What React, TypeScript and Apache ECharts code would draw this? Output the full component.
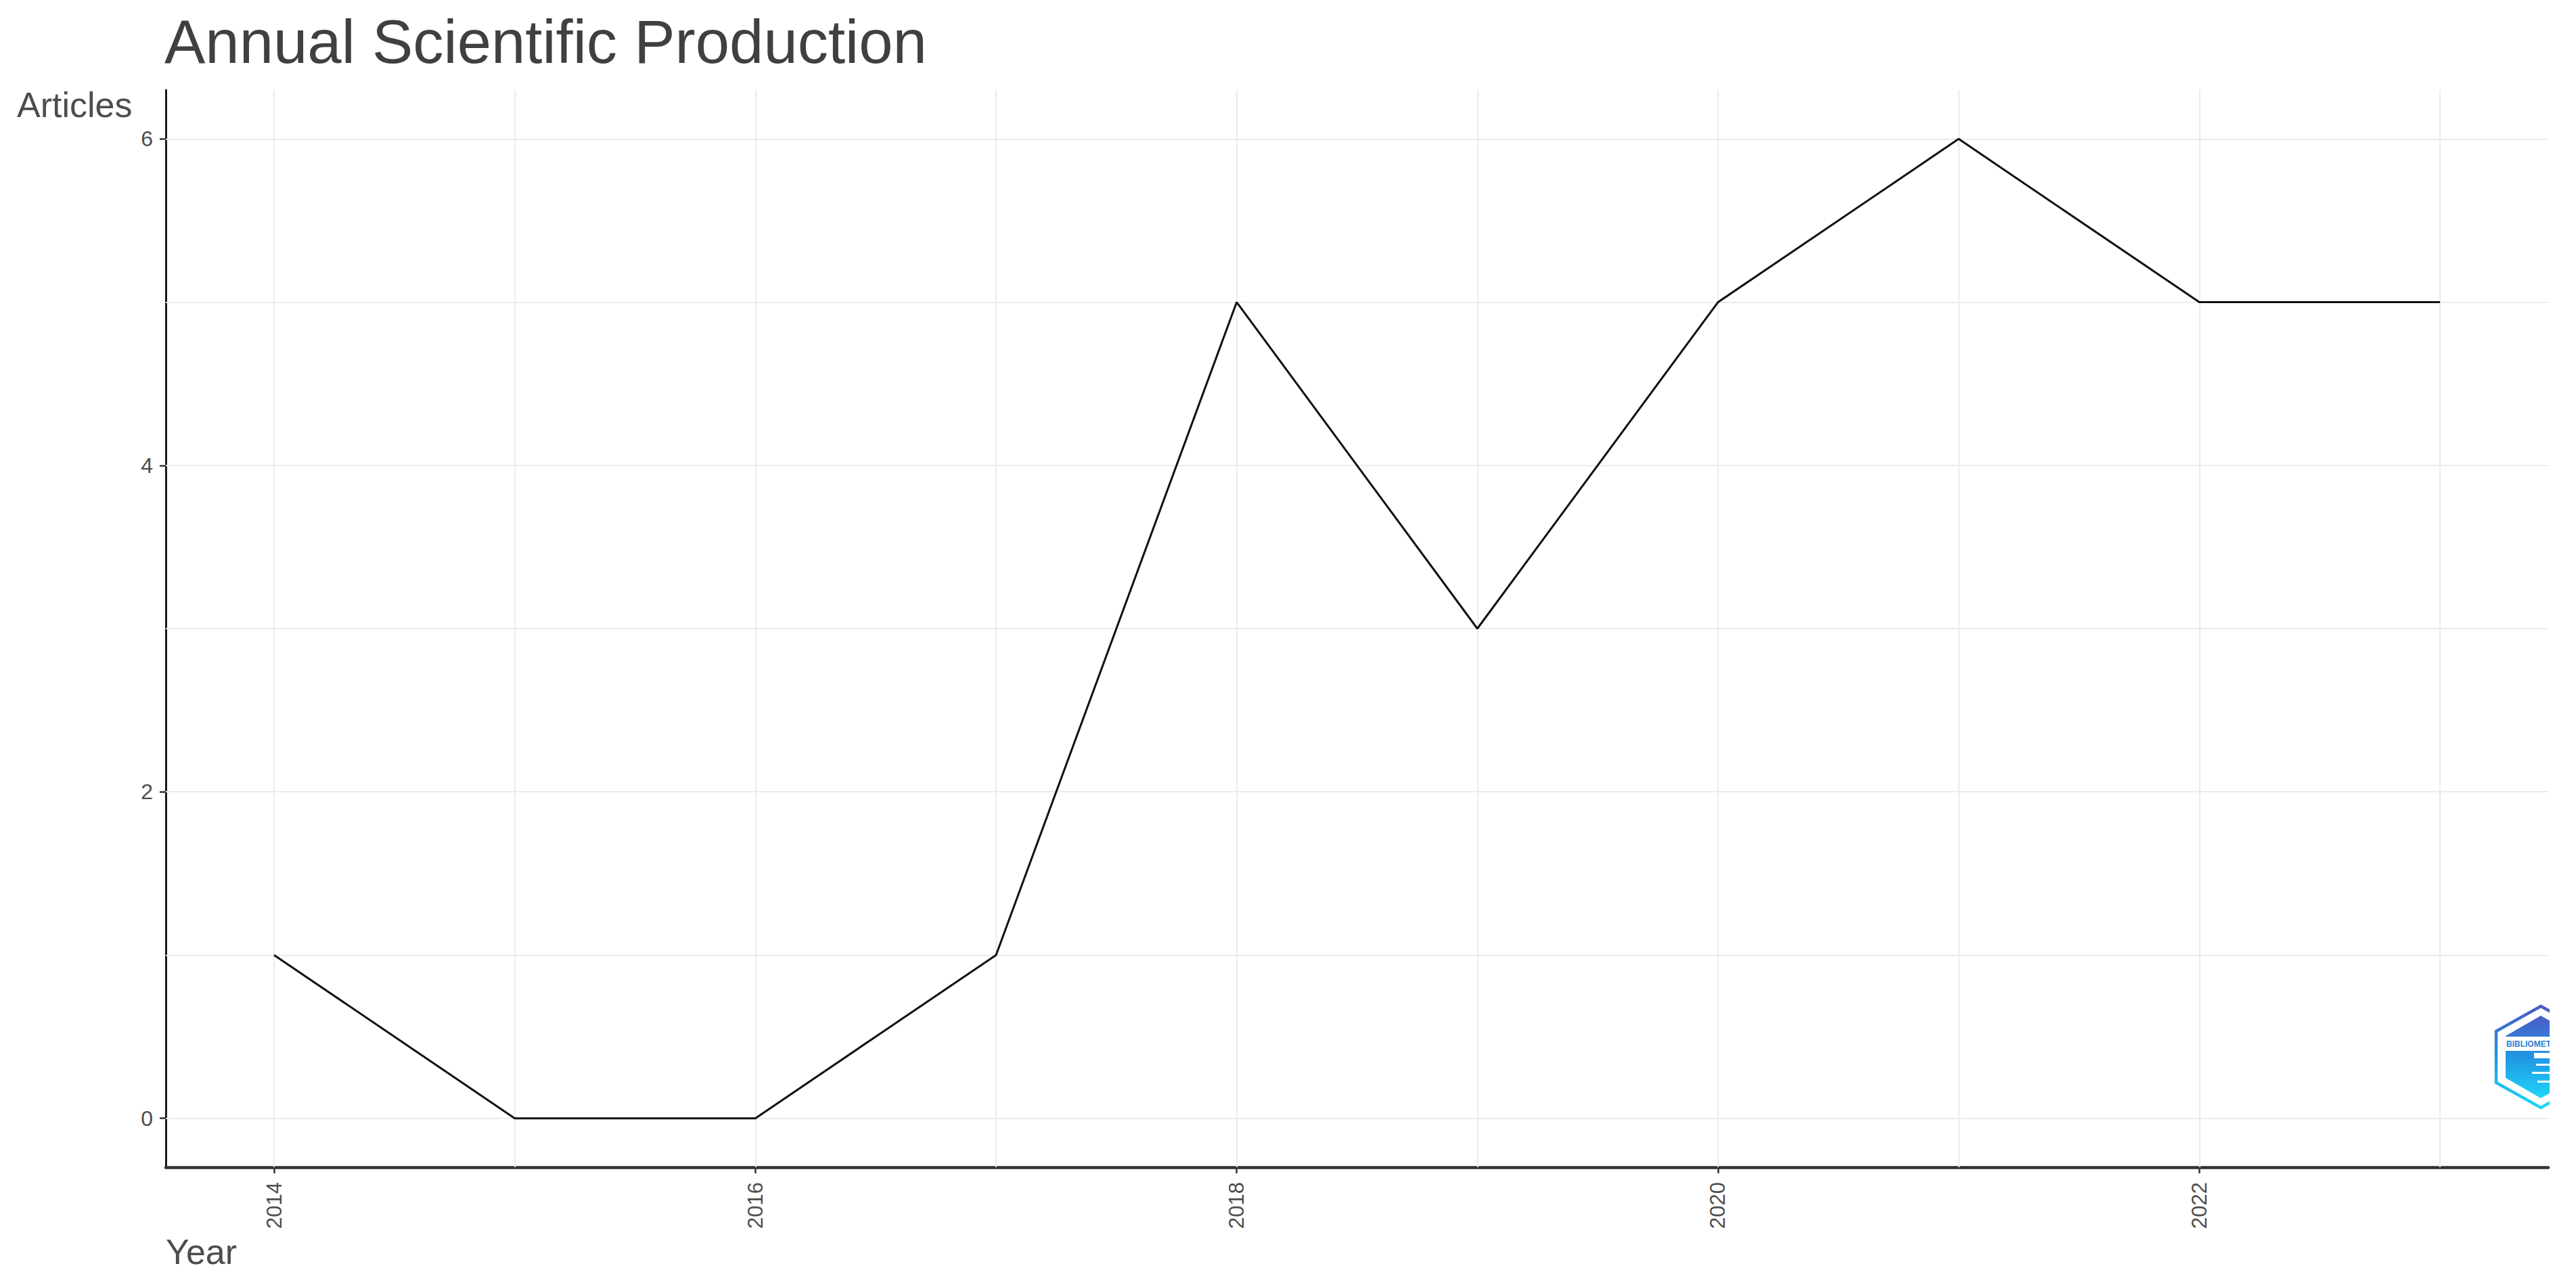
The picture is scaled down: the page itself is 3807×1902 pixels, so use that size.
import React, { useEffect, useRef } from "react";
import * as echarts from "echarts";

const years = [2014, 2015, 2016, 2017, 2018, 2019, 2020, 2021, 2022, 2023];
const articles = [1, 0, 0, 1, 5, 3, 5, 6, 5, 5];
const xTickYears = [2014, 2016, 2018, 2020, 2022];
const yTickValues = [0, 2, 4, 6];
const yGridValues = [0, 1, 2, 3, 4, 5, 6];
const xMin = 2013.55;
const xMax = 2023.45;
const yMin = -0.3;
const yMax = 6.3;

const FONT = "Liberation Sans, Arial, Helvetica, sans-serif";

export default function App() {
  const ref = useRef<HTMLDivElement>(null);

  useEffect(() => {
    if (!ref.current) return;
    const chart = echarts.init(ref.current, undefined, { renderer: "svg" });

    const logoGrad = new echarts.graphic.LinearGradient(0, 0, 0, 1, [
      { offset: 0, color: "#4b5bc4" },
      { offset: 0.5, color: "#2196e3" },
      { offset: 1, color: "#1fd6f8" },
    ]);
    const logoGrad2 = new echarts.graphic.LinearGradient(0, 0, 0, 1, [
      { offset: 0, color: "#4b5bc4" },
      { offset: 0.5, color: "#2196e3" },
      { offset: 1, color: "#1fd6f8" },
    ]);

    const option: any = {
      animation: false,
      backgroundColor: "#ffffff",
      grid: { left: 245, right: 41, top: 133, bottom: 177, containLabel: false },
      xAxis: {
        type: "value",
        min: xMin,
        max: xMax,
        axisLine: { show: true, onZero: false, lineStyle: { color: "#333333", width: 4.5 } },
        axisTick: {
          show: true,
          length: 9,
          customValues: xTickYears,
          lineStyle: { color: "#333333", width: 2.5 },
        },
        axisLabel: {
          show: true,
          customValues: xTickYears,
          rotate: 90,
          margin: 22,
          fontSize: 31,
          fontFamily: FONT,
          color: "#4d4d4d",
          verticalAlign: "middle",
          formatter: (v: number) => String(v),
        },
        splitLine: { show: false },
      },
      yAxis: {
        type: "value",
        min: yMin,
        max: yMax,
        axisLine: { show: true, onZero: false, lineStyle: { color: "#000000", width: 2.7 } },
        axisTick: {
          show: true,
          length: 9,
          customValues: yTickValues,
          lineStyle: { color: "#333333", width: 2.5 },
        },
        axisLabel: {
          show: true,
          customValues: yTickValues,
          margin: 19,
          fontSize: 32,
          fontFamily: FONT,
          color: "#4d4d4d",
          formatter: (v: number) => String(v),
        },
        splitLine: { show: false },
      },
      series: [
        {
          type: "line",
          name: "grid",
          data: [],
          z: 1,
          silent: true,
          markLine: {
            silent: true,
            z: 1,
            symbol: ["none", "none"],
            label: { show: false },
            emphasis: { disabled: true },
            lineStyle: { color: "#ebebeb", width: 2, type: "solid" },
            data: [
              ...years.map((y) => ({ xAxis: y })),
              ...yGridValues.map((v) => ({ yAxis: v })),
            ],
          },
        },
        {
          type: "line",
          name: "Articles",
          z: 3,
          data: years.map((y, i) => [y, articles[i]]),
          showSymbol: false,
          symbol: "none",
          lineStyle: { color: "#111111", width: 3 },
        },
      ],
      graphic: [
        {
          type: "text",
          left: 243,
          top: 16,
          style: {
            text: "Annual Scientific Production",
            font: `90.5px ${FONT}`,
            fill: "#404040",
          },
        },
        {
          type: "text",
          x: 25,
          y: 155,
          style: {
            text: "Articles",
            font: `52px ${FONT}`,
            fill: "#4d4d4d",
            verticalAlign: "middle",
          },
        },
        {
          type: "text",
          x: 245,
          y: 1850,
          style: {
            text: "Year",
            font: `52px ${FONT}`,
            fill: "#4d4d4d",
            verticalAlign: "middle",
          },
        },
        // logo (bibliometrix), clipped at plot right edge
        {
          type: "polygon",
          z: 10,
          shape: {
            points: [
              [3755, 1487],
              [3822, 1524],
              [3822, 1600],
              [3755, 1637],
              [3689, 1600],
              [3689, 1524],
            ],
          },
          style: { fill: "none", stroke: logoGrad, lineWidth: 4.5 },
        },
        {
          type: "polygon",
          z: 10,
          shape: {
            points: [
              [3755, 1501],
              [3808, 1531],
              [3808, 1593],
              [3755, 1623],
              [3703, 1593],
              [3703, 1531],
            ],
          },
          style: { fill: logoGrad2 },
        },
        {
          type: "rect",
          z: 11,
          shape: { x: 3700, y: 1532, width: 80, height: 21 },
          style: { fill: "#ffffff" },
        },
        {
          type: "text",
          z: 12,
          x: 3704,
          y: 1543,
          style: {
            text: "BIBLIOMETRIX",
            font: `bold 12px ${FONT}`,
            fill: "#2a7fd8",
            verticalAlign: "middle",
          },
        },
        {
          type: "rect",
          z: 11,
          shape: { x: 3745, y: 1556, width: 30, height: 8 },
          style: { fill: "#ffffff" },
        },
        {
          type: "rect",
          z: 11,
          shape: { x: 3748, y: 1572, width: 30, height: 3 },
          style: { fill: "#ffffff" },
        },
        {
          type: "rect",
          z: 11,
          shape: { x: 3742, y: 1584, width: 30, height: 3 },
          style: { fill: "#ffffff" },
        },
        {
          type: "rect",
          z: 11,
          shape: { x: 3750, y: 1597, width: 30, height: 3 },
          style: { fill: "#ffffff" },
        },
        {
          type: "rect",
          z: 13,
          shape: { x: 3768, y: 1460, width: 60, height: 200 },
          style: { fill: "#ffffff" },
        },
      ],
    };

    chart.setOption(option);
    return () => chart.dispose();
  }, []);

  return (
    <div
      ref={ref}
      style={{ position: "fixed", left: 0, top: 0, width: 3807, height: 1902, background: "#ffffff" }}
    />
  );
}
